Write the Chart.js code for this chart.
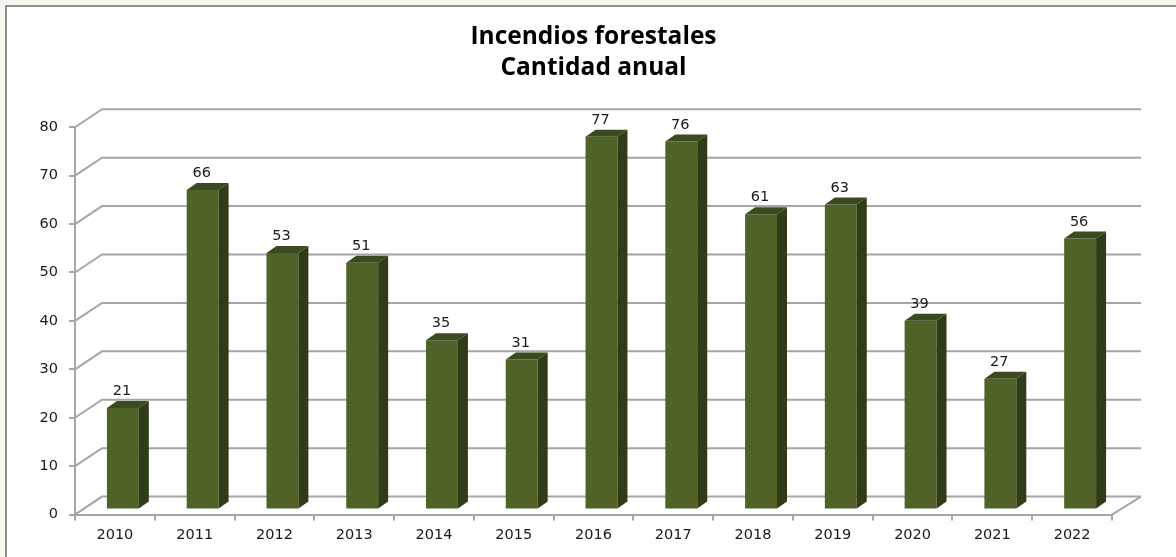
<!DOCTYPE html>
<html lang="es">
<head>
<meta charset="utf-8">
<title>Incendios forestales</title>
<style>
    html, body { margin: 0; padding: 0; background: #f6f5f0; overflow: hidden; }
    canvas { display: block; }
</style>
<script src="https://cdn.jsdelivr.net/npm/chart.js@4"></script>
</head>
<body>
<canvas id="firesChart" width="1176" height="557"></canvas>
<script>
// Values
const years = ['2010', '2011', '2012', '2013', '2014', '2015', '2016', '2017', '2018', '2019', '2020', '2021', '2022'];
const fires = [21, 66, 53, 51, 35, 31, 77, 76, 61, 63, 39, 27, 56];
const titleLines = ['Incendios forestales', 'Cantidad anual'];

const fontFamily = "'DejaVu Sans', sans-serif";
const gridColor = '#a6a6a6';
const textColor = '#1a1a1a';

// Fake 3D look: walls sit behind the axes, bars sit part way into the depth
const wall = { dx: 27, dy: -18, extraRight: 2 };
const barShift = { dx: 8, dy: -5 };
const barDepth = { dx: 10, dy: -7 };

// Page frame, white panel with a grey line on top and on the left
const framePlugin = {
    id: 'frame',
    beforeDraw(chart) {
        const { ctx, width, height } = chart;
        ctx.save();
        ctx.fillStyle = '#ffffff';
        ctx.fillRect(6, 6, width - 6, height - 6);
        ctx.fillStyle = '#8f8f8f';
        ctx.fillRect(5, 5, width - 5, 2);
        ctx.fillRect(5, 5, 2, height - 5);
        ctx.restore();
    }
};

// Gridlines on the back wall and the floor edge, taken from the y scale
const wallPlugin = {
    id: 'wall',
    beforeDatasetsDraw(chart) {
        const { ctx, scales } = chart;
        const left = scales.x.left;
        const right = scales.x.right;
        ctx.save();
        ctx.strokeStyle = gridColor;
        ctx.lineWidth = 2;
        scales.y.ticks.forEach(tick => {
            const y = scales.y.getPixelForValue(tick.value);
            ctx.beginPath();
            ctx.moveTo(left, y);
            ctx.lineTo(left + wall.dx, y + wall.dy);
            ctx.lineTo(right + wall.dx + wall.extraRight, y + wall.dy);
            ctx.stroke();
        });
        const floorY = scales.y.getPixelForValue(0);
        ctx.beginPath();
        ctx.moveTo(right, floorY);
        ctx.lineTo(right + wall.dx + wall.extraRight, floorY + wall.dy);
        ctx.stroke();
        ctx.restore();
    }
};

// Shifts the bars into the depth, then adds top and side faces and value labels
const barsPlugin = {
    id: 'bars3d',
    beforeDatasetDraw(chart) {
        chart.ctx.save();
        chart.ctx.translate(barShift.dx, barShift.dy);
    },
    afterDatasetDraw(chart) {
        chart.ctx.restore();
        const { ctx } = chart;
        const bars = chart.getDatasetMeta(0).data;
        ctx.save();
        bars.forEach((bar, i) => {
            const x0 = bar.x - bar.width / 2 + barShift.dx;
            const x1 = bar.x + bar.width / 2 + barShift.dx;
            const top = bar.y + barShift.dy;
            const bottom = bar.base + barShift.dy;

            ctx.fillStyle = '#3c4b1f';
            ctx.beginPath();
            ctx.moveTo(x0, top);
            ctx.lineTo(x0 + barDepth.dx, top + barDepth.dy);
            ctx.lineTo(x1 + barDepth.dx, top + barDepth.dy);
            ctx.lineTo(x1, top);
            ctx.closePath();
            ctx.fill();

            ctx.fillStyle = '#303c18';
            ctx.beginPath();
            ctx.moveTo(x1, top);
            ctx.lineTo(x1 + barDepth.dx, top + barDepth.dy);
            ctx.lineTo(x1 + barDepth.dx, bottom + barDepth.dy);
            ctx.lineTo(x1, bottom);
            ctx.closePath();
            ctx.fill();

            ctx.fillStyle = textColor;
            ctx.font = '14.5px ' + fontFamily;
            ctx.textAlign = 'center';
            ctx.textBaseline = 'middle';
            ctx.fillText(String(fires[i]), (x0 + x1) / 2 - 1, top - 16.5);
        });
        ctx.restore();
    }
};

function createFiresChart() {
    const ctx = document.getElementById('firesChart');
    if (!ctx) return;

    new Chart(ctx, {
        type: 'bar',
        data: {
            labels: years,
            datasets: [
                {
                    label: 'Incendios forestales',
                    data: fires,
                    backgroundColor: '#4f6228',
                    categoryPercentage: 1,
                    barPercentage: 0.4,
                    clip: false
                }
            ]
        },
        options: {
            responsive: false,
            animation: false,
            layout: {
                padding: { left: 10, right: 64, top: 0, bottom: 7 }
            },
            plugins: {
                legend: { display: false },
                tooltip: { enabled: false },
                title: {
                    display: true,
                    text: titleLines,
                    fullSize: false,
                    color: '#000000',
                    font: { family: "'Open Sans', sans-serif", size: 24.5, weight: 'bold', lineHeight: 1.27 },
                    padding: { top: 21, bottom: 44 }
                }
            },
            scales: {
                x: {
                    grid: { color: gridColor, lineWidth: 2, drawOnChartArea: false, tickLength: 6 },
                    border: { color: gridColor, width: 2 },
                    ticks: { color: textColor, font: { family: fontFamily, size: 14.5 }, padding: 6, maxRotation: 0 }
                },
                y: {
                    min: 0,
                    max: 80,
                    afterFit(scale) { scale.width = 65; },
                    grid: { color: gridColor, lineWidth: 2, drawOnChartArea: false, tickLength: 6 },
                    border: { color: gridColor, width: 2 },
                    ticks: { stepSize: 10, color: textColor, font: { family: fontFamily, size: 14.5 }, padding: 11 }
                }
            }
        },
        plugins: [framePlugin, wallPlugin, barsPlugin]
    });
}

createFiresChart();
</script>
</body>
</html>
